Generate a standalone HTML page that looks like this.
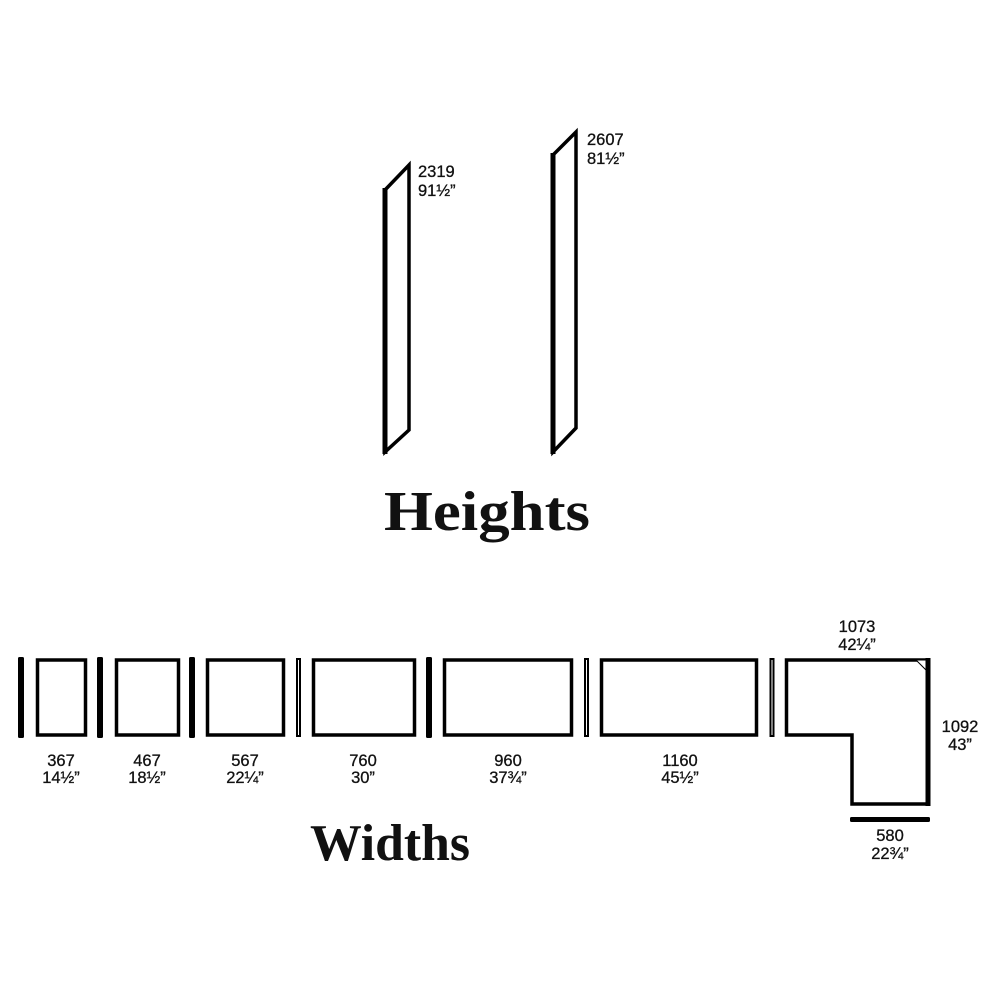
<!DOCTYPE html>
<html><head><meta charset="utf-8"><style>
html,body{margin:0;padding:0;background:#fff;}
svg{display:block}
.n{font-family:"Liberation Sans",sans-serif;font-size:16.5px;fill:#111;stroke:#111;stroke-width:0.3;}
.t{font-family:"Liberation Serif",serif;font-weight:bold;fill:#111;}
</style></head><body>
<svg width="1000" height="1000" viewBox="0 0 1000 1000" xmlns="http://www.w3.org/2000/svg">
<g fill="none" stroke="#000" stroke-linejoin="miter">
<path d="M385,190 L409,165 L409,430 L385,452 Z" stroke-width="3.5"/>
<line x1="385" y1="188" x2="385" y2="454" stroke-width="5"/>
<path d="M553,155 L576,132 L576,428 L553,452 Z" stroke-width="3.5"/>
<line x1="553" y1="153" x2="553" y2="454" stroke-width="5"/>
<rect x="37.5" y="660" width="48" height="75" stroke-width="3.5"/>
<rect x="116.5" y="660" width="62" height="75" stroke-width="3.5"/>
<rect x="207.5" y="660" width="76" height="75" stroke-width="3.5"/>
<rect x="313.5" y="660" width="101" height="75" stroke-width="3.5"/>
<rect x="444.5" y="660" width="127" height="75" stroke-width="3.5"/>
<rect x="601.5" y="660" width="155" height="75" stroke-width="3.5"/>
<path d="M786.5,660 L928,660 L928,804 L852,804 L852,735 L786.5,735 Z" stroke-width="3.5"/>
<line x1="928" y1="658" x2="928" y2="806" stroke-width="5"/>
<rect x="297" y="659" width="3" height="77" stroke-width="2"/>
<rect x="585" y="659" width="3" height="77" stroke-width="2"/>
<rect x="770.5" y="659" width="3" height="77" stroke-width="2"/>
</g>
<path d="M916,660 L926,660 L926,670 Z" fill="#fff" stroke="#000" stroke-width="1"/>
<g fill="#000">
<rect x="18" y="657" width="6" height="81" rx="1.5"/>
<rect x="97" y="657" width="6" height="81" rx="1.5"/>
<rect x="189" y="657" width="6" height="81" rx="1.5"/>
<rect x="426" y="657" width="6" height="81" rx="1.5"/>
<rect x="850" y="817" width="80" height="5" rx="1.5"/>
</g>
<g class="n">
<text x="418" y="177">2319</text><text x="418" y="196">91½”</text>
<text x="587" y="145">2607</text><text x="587" y="164">81½”</text>
<g text-anchor="middle">
<text x="61" y="766">367</text><text x="61" y="783">14½”</text>
<text x="147" y="766">467</text><text x="147" y="783">18½”</text>
<text x="245" y="766">567</text><text x="245" y="783">22¼”</text>
<text x="363" y="766">760</text><text x="363" y="783">30”</text>
<text x="508" y="766">960</text><text x="508" y="783">37¾”</text>
<text x="680" y="766">1160</text><text x="680" y="783">45½”</text>
<text x="857" y="632">1073</text><text x="857" y="650">42¼”</text>
<text x="960" y="732">1092</text><text x="960" y="750">43”</text>
<text x="890" y="841">580</text><text x="890" y="859">22¾”</text>
</g>
</g>
<text class="t" x="384" y="530" font-size="56" textLength="206" lengthAdjust="spacingAndGlyphs">Heights</text>
<text class="t" x="310" y="860" font-size="52" textLength="160" lengthAdjust="spacingAndGlyphs">Widths</text>
</svg>
</body></html>
